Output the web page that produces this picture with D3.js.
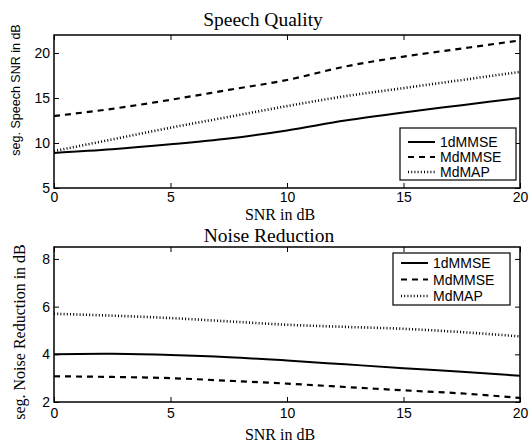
<!DOCTYPE html>
<html>
<head>
<meta charset="utf-8">
<script src="https://cdn.jsdelivr.net/npm/d3@7"></script>
<style>
  body { margin: 0; background: #fff; }
  svg { display: block; }
  .tick text { font-family: "Liberation Sans", Arial, sans-serif; font-size: 14px; fill: #000; }
  .tick line { stroke: #000; stroke-width: 1; }
</style>
</head>
<body>
<script>
// data
const snr = [0, 2.5, 5, 7.5, 10, 12.5, 15, 17.5, 20];
const series = ["1dMMSE", "MdMMSE", "MdMAP"];

const speech1d = [8.9, 9.3, 9.85, 10.5, 11.4, 12.5, 13.4, 14.2, 15.0];
const speechMdMMSE = [13.0, 13.8, 14.8, 15.9, 17.0, 18.5, 19.6, 20.5, 21.4];
const speechMdMAP = [9.1, 10.4, 11.7, 12.9, 14.1, 15.2, 16.1, 17.0, 17.9];

const noise1d = [4.0, 4.02, 3.97, 3.88, 3.74, 3.58, 3.42, 3.27, 3.1];
const noiseMdMMSE = [3.08, 3.05, 3.0, 2.89, 2.77, 2.63, 2.49, 2.36, 2.17];
const noiseMdMAP = [5.7, 5.62, 5.52, 5.38, 5.24, 5.15, 5.07, 4.93, 4.75];

const xTicks = [0, 5, 10, 15, 20];
const speechTicks = [5, 10, 15, 20];
const noiseTicks = [2, 4, 6, 8];

const w = 530;
const h = 445;
const styles = [
  { width: 2, dash: null },
  { width: 2.2, dash: "6,5" },
  { width: 2.6, dash: "1,2.2" }
];

const svg = d3.select("body").append("svg").attr("width", w).attr("height", h);

function panel(opts) {
  const x = d3.scaleLinear().domain([0, 20]).range([54, 520]);
  const y = d3.scaleLinear().domain(opts.yDomain).range([opts.bottom, opts.top]);
  const g = svg.append("g");

  // ticks on all four sides, pointing in
  g.append("g")
    .attr("transform", `translate(0,${opts.bottom})`)
    .call(d3.axisBottom(x).tickValues(xTicks).tickSizeInner(-5).tickSizeOuter(0).tickPadding(opts.xPad).tickFormat(d3.format("d")))
    .call((a) => a.select(".domain").remove());
  g.append("g")
    .attr("transform", `translate(0,${opts.top})`)
    .call(d3.axisTop(x).tickValues(xTicks).tickSizeInner(-5).tickSizeOuter(0).tickFormat(""))
    .call((a) => a.select(".domain").remove());
  g.append("g")
    .attr("transform", "translate(54,0)")
    .call(d3.axisLeft(y).tickValues(opts.yTicks).tickSizeInner(-5).tickSizeOuter(0).tickPadding(4).tickFormat(d3.format("d")))
    .call((a) => a.select(".domain").remove());
  g.append("g")
    .attr("transform", "translate(520,0)")
    .call(d3.axisRight(y).tickValues(opts.yTicks).tickSizeInner(-5).tickSizeOuter(0).tickFormat(""))
    .call((a) => a.select(".domain").remove());

  const line = d3.line().x((d, i) => x(snr[i])).y((d) => y(d)).curve(d3.curveMonotoneX);
  opts.data.forEach((vals, k) => {
    g.append("path")
      .datum(vals)
      .attr("d", line)
      .attr("fill", "none")
      .attr("stroke", "#000")
      .attr("stroke-width", styles[k].width)
      .attr("stroke-dasharray", styles[k].dash);
  });

  g.append("rect")
    .attr("x", x(0)).attr("y", y(opts.yDomain[1]))
    .attr("width", x(20) - x(0)).attr("height", y(opts.yDomain[0]) - y(opts.yDomain[1]))
    .attr("fill", "none").attr("stroke", "#000").attr("stroke-width", 1.5);

  // legend
  const L = opts.legend;
  const lg = g.append("g");
  lg.append("rect")
    .attr("x", L.x).attr("y", L.y).attr("width", L.w).attr("height", L.h)
    .attr("fill", "#fff").attr("stroke", "#000").attr("stroke-width", 1.2);
  series.forEach((name, k) => {
    const yy = L.y + L.first + k * L.step;
    lg.append("line")
      .attr("x1", L.x + 8).attr("x2", L.x + 35).attr("y1", yy).attr("y2", yy)
      .attr("stroke", "#000").attr("stroke-width", styles[k].width)
      .attr("stroke-dasharray", styles[k].dash);
    lg.append("text")
      .attr("x", L.x + 40).attr("y", yy + 5)
      .attr("font-family", "Liberation Sans, Arial, sans-serif")
      .attr("font-size", 14)
      .text(name);
  });

  svg.append("text")
    .attr("x", opts.titleX).attr("y", opts.titleY)
    .attr("text-anchor", "middle")
    .attr("font-family", "Liberation Serif, Times New Roman, serif")
    .attr("font-size", 19.5)
    .text(opts.title);

  svg.append("text")
    .attr("x", 280).attr("y", opts.xLabelY)
    .attr("text-anchor", "middle")
    .attr("font-family", "Liberation Serif, Times New Roman, serif")
    .attr("font-size", 16)
    .text("SNR in dB");

  svg.append("text")
    .attr("transform", `translate(${opts.yLabelX},${opts.yLabelMid}) rotate(-90)`)
    .attr("text-anchor", "middle")
    .attr("font-family", opts.yLabelFont)
    .attr("font-size", opts.yLabelSize)
    .text(opts.yLabel);
}

panel({
  top: 35, bottom: 188, yDomain: [5, 22], yTicks: speechTicks,
  data: [speech1d, speechMdMMSE, speechMdMAP],
  title: "Speech Quality", titleX: 263, titleY: 26,
  xLabelY: 220, xPad: 4,
  yLabel: "seg. Speech SNR in dB", yLabelX: 20, yLabelMid: 90,
  yLabelFont: "Liberation Sans, Arial, sans-serif", yLabelSize: 12.5,
  legend: { x: 400, y: 128, w: 116, h: 52, first: 14, step: 15 }
});

panel({
  top: 247, bottom: 402, yDomain: [2, 8.5], yTicks: noiseTicks,
  data: [noise1d, noiseMdMMSE, noiseMdMAP],
  title: "Noise Reduction", titleX: 269, titleY: 241.5,
  xLabelY: 440, xPad: 6,
  yLabel: "seg. Noise Reduction in dB", yLabelX: 25, yLabelMid: 332,
  yLabelFont: "Liberation Serif, Times New Roman, serif", yLabelSize: 16,
  legend: { x: 393, y: 253, w: 117, h: 52, first: 10, step: 16.5 }
});
</script>
</body>
</html>
